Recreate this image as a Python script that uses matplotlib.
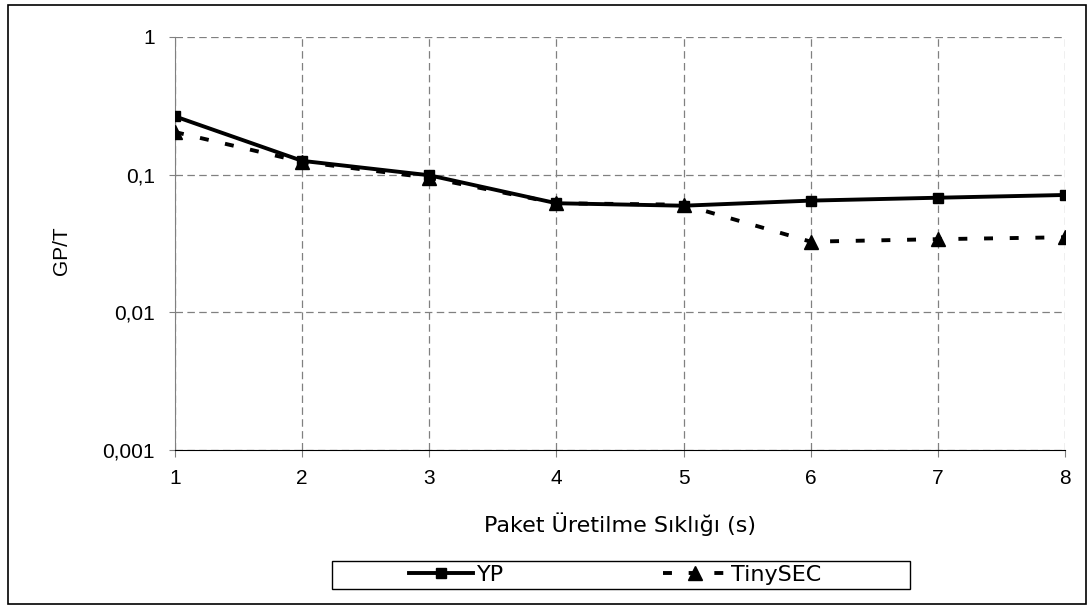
import numpy as np
import matplotlib.pyplot as plt
from matplotlib.patches import Rectangle
from matplotlib.ticker import FixedLocator, NullLocator

# values
siklik = [1, 2, 3, 4, 5, 6, 7, 8]
yp = [0.265, 0.126, 0.099, 0.062, 0.0595, 0.0648, 0.068, 0.0712]
tinysec = [0.204, 0.124, 0.095, 0.062, 0.0605, 0.0326, 0.034, 0.0351]
y_ticks = [0.001, 0.01, 0.1, 1]
y_labels = ['0,001', '0,01', '0,1', '1']

plt.rcParams['font.family'] = ['Liberation Sans', 'DejaVu Sans']

W, H = 1088, 607
fig = plt.figure(figsize=(W / 100, H / 100), dpi=100)


def px_rect(x0, y0, x1, y1, **kw):
    # rectangle in pixel coords (y from top)
    r = Rectangle((x0 / W, 1 - y1 / H), (x1 - x0) / W, (y1 - y0) / H,
                  transform=fig.transFigure, fill=False, **kw)
    fig.patches.append(r)


# outer chart border
px_rect(8, 5, 1086, 604, edgecolor='black', linewidth=1.2)

ax = fig.add_axes([175 / W, 1 - 450 / H, 890 / W, 413 / H])

ax.plot(siklik, yp, color='black', linewidth=2.8, marker='s', markersize=7.5,
        label='YP', zorder=4)
ax.plot(siklik, tinysec, color='black', linewidth=2.8, linestyle=(0, (2.3, 4.3)),
        marker='^', markersize=10, label='TinySEC', zorder=3)

ax.set_yscale('log')
ax.set_ylim(0.001, 1)
ax.set_xlim(1, 8)
ax.yaxis.set_major_locator(FixedLocator(y_ticks))
ax.yaxis.set_minor_locator(NullLocator())
ax.set_yticklabels(y_labels)
ax.set_xticks(siklik)

ax.grid(True, color='#808080', linestyle=(0, (6, 3.5)), linewidth=0.9)
for s in ['top', 'right']:
    ax.spines[s].set_visible(False)
ax.spines['left'].set_color('#808080')
ax.spines['bottom'].set_color('black')
ax.tick_params(axis='y', direction='out', length=4.5, color='#808080', labelsize=15, pad=10)
ax.tick_params(axis='x', direction='out', length=5, color='#808080', labelsize=15, pad=9)

ax.set_ylabel('GP/T', fontsize=15, va='center')
ax.yaxis.set_label_coords((61 - 175) / 890, (450 - 251) / 413)
ax.set_xlabel('Paket Üretilme Sıklığı (s)', fontsize=16, family='DejaVu Sans', va='center')
ax.xaxis.set_label_coords(0.5, (450 - 524) / 413)

# legend box drawn separately, entries placed inside it
px_rect(332, 561, 910, 589, edgecolor='black', linewidth=1.0)
leg = ax.legend(loc='center left', bbox_to_anchor=(409 / W, 1 - 575 / H),
                bbox_transform=fig.transFigure, ncol=2, frameon=False,
                borderpad=0, borderaxespad=0, handlelength=2.9,
                handletextpad=0.15, columnspacing=7.15,
                prop={'family': 'DejaVu Sans', 'size': 16})

fig.savefig('out.png', dpi=100)
